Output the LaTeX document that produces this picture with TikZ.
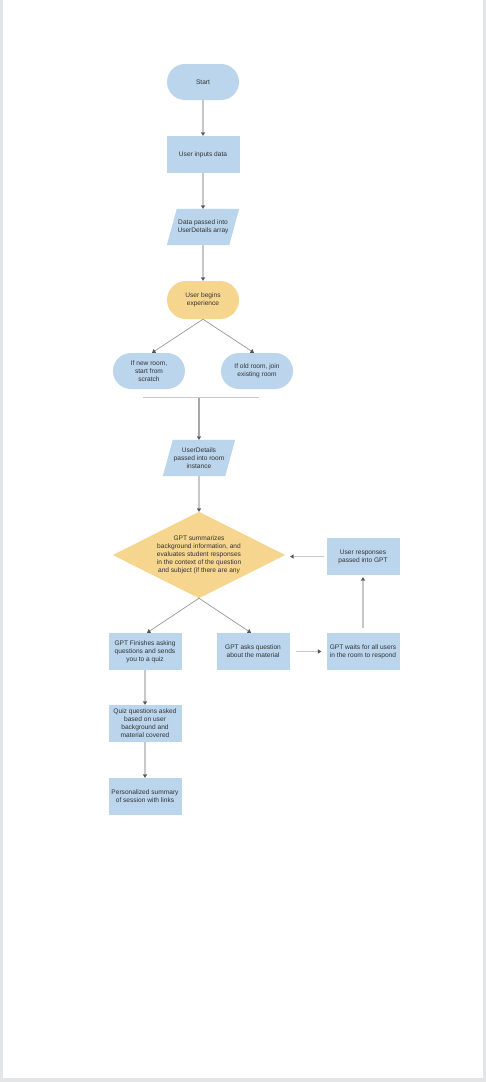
\documentclass[tikz,border=0pt]{standalone}
\usepackage{fontspec}
\setmainfont{Liberation Sans}
\usetikzlibrary{arrows.meta,calc}
\definecolor{pagegrey}{HTML}{E4E5E7}
\definecolor{boxblue}{HTML}{BAD5EC}
\definecolor{boxorange}{HTML}{F6D58E}
\definecolor{txt}{HTML}{333333}
\definecolor{lineL}{HTML}{C8C8C8}
\definecolor{lineM}{HTML}{A8A8A8}
\definecolor{lineT}{HTML}{999999}
\definecolor{tipc}{HTML}{555555}
\pgfdeclarelayer{bg}\pgfdeclarelayer{shp}\pgfsetlayers{bg,shp,main}
\begin{document}
\begin{tikzpicture}[x=1pt,y=-1pt,
 lbl/.style={font=\fontsize{6.6}{8}\selectfont, text=txt, align=center, inner sep=0pt},
 stadium/.style={lbl, rectangle, rounded corners=18pt, fill=boxblue, minimum width=72pt, minimum height=36pt},
 boxn/.style={lbl, rectangle, fill=boxblue, minimum width=73pt, minimum height=37pt},
 ghost/.style={lbl, rectangle, minimum width=72pt, minimum height=36pt},
 flow/.style={draw=lineL, line width=1.8pt, -{Triangle[width=4.5pt,length=3.5pt,color=tipc,line width=0pt]}},
 thinflow/.style={draw=lineT, line width=0.7pt, -{Triangle[width=4.5pt,length=3.5pt,color=tipc,line width=0pt]}},
 para/.style={fill=boxblue},
]
\useasboundingbox (0,0) rectangle (486,1082);
\begin{pgfonlayer}{bg}
\fill[pagegrey] (0,0) rectangle (486,1082);
\fill[white] (3,0) rectangle (483,1078);
\end{pgfonlayer}

\node[stadium] (start) at (203,82) {Start};
\node[boxn] (input) at (203,154.5) {User inputs data};
\node[ghost] (data) at (203,227) {Data passed into\\UserDetails array};
\node[stadium, fill=boxorange, minimum height=38pt, rounded corners=19pt] (begins) at (203,300) {User begins\\experience};
\node[stadium] (newroom) at (149,371) {If new room,\\start from\\scratch};
\node[stadium] (oldroom) at (257,371) {If old room, join\\existing room};
\node[ghost] (details) at (199,458) {UserDetails\\passed into room\\instance};
\node[ghost, minimum width=172pt, minimum height=86pt] (diam) at (199,555) {GPT summarizes\\background information, and\\evaluates student responses\\in the context of the question\\and subject (if there are any};
\node[boxn] (responses) at (363,556.5) {User responses\\passed into GPT};
\node[boxn] (finish) at (145,651.5) {GPT Finishes asking\\questions and sends\\you to a quiz};
\node[boxn] (ask) at (253,651.5) {GPT asks question\\about the material};
\node[boxn] (waits) at (363,651.5) {GPT waits for all users\\in the room to respond};
\node[boxn] (quiz) at (145,723.5) {Quiz questions asked\\based on user\\background and\\material covered};
\node[boxn] (summary) at (145,796.5) {Personalized summary\\of session with links};

\begin{pgfonlayer}{shp}
\path[para] (data.south west) -- ($(data.south east)+(-10,0)$) -- (data.north east) -- ($(data.north west)+(10,0)$) -- cycle;
\path[para] (details.south west) -- ($(details.south east)+(-10,0)$) -- (details.north east) -- ($(details.north west)+(10,0)$) -- cycle;
\path[fill=boxorange] (diam.north) -- (diam.east) -- (diam.south) -- (diam.west) -- cycle;
\end{pgfonlayer}

\coordinate (barL) at (143,397.5);
\coordinate (barR) at (259,397.5);
\coordinate (barM) at (199,397.5);

\draw[flow] (start) -- (input);
\draw[flow] (input) -- (data);
\draw[flow] (data) -- (begins);
\draw[thinflow] (begins.south) -- ($(newroom.north)+(3,0)$);
\draw[thinflow] (begins.south) -- ($(oldroom.north)+(-3,0)$);
\draw[draw=lineL, line width=1.8pt] (barL) -- (barR);
\draw[flow, draw=lineM] (barM) -- (details);
\draw[flow] (details) -- (diam.north);
\draw[thinflow] (diam.south) -- ($(finish.north)+(2,0)$);
\draw[thinflow] (diam.south) -- ($(ask.north)+(-2,0)$);
\draw[flow, shorten <=6pt, shorten >=5pt] (ask.east) -- (ask.east -| waits.west);
\draw[flow, shorten <=5pt, shorten >=2pt] (waits.north) -- (responses.south);
\draw[flow, shorten <=2pt, shorten >=5pt] (responses.west) -- (responses.west -| diam.east);
\draw[flow] (finish) -- (quiz);
\draw[flow] (quiz) -- (summary);
\end{tikzpicture}
\end{document}
